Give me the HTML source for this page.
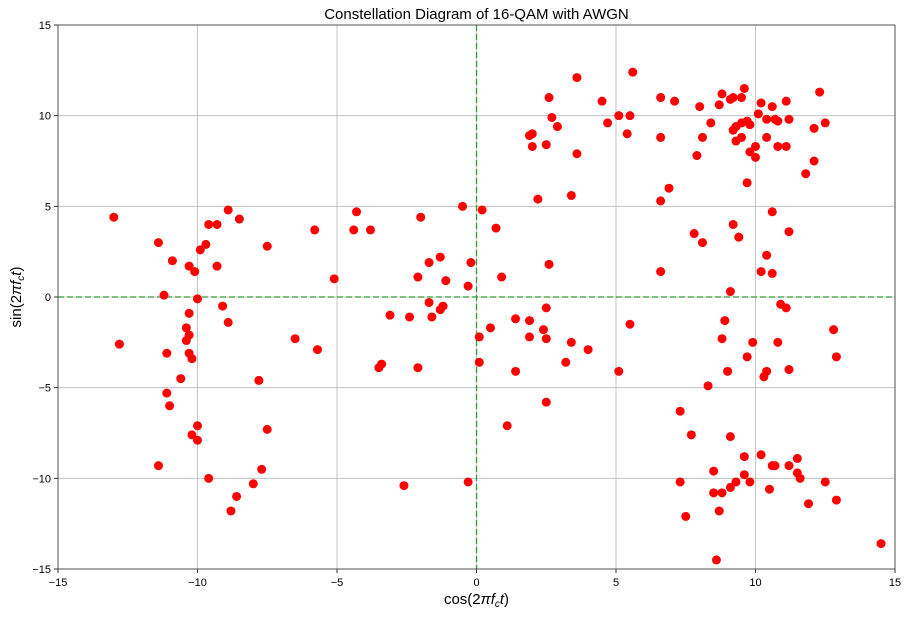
<!DOCTYPE html>
<html><head><meta charset="utf-8"><style>
body{margin:0;background:#fff;}
svg text{font-family:"Liberation Sans","DejaVu Sans",sans-serif;}
</style></head><body>
<svg id="chart" width="908" height="615" xmlns="http://www.w3.org/2000/svg"></svg>
<script>
const xTicks=[-15,-10,-5,0,5,10,15];
const yTicks=[-15,-10,-5,0,5,10,15];
const xs=[-13.0,-11.4,-10.9,-11.2,-10.3,-10.1,-9.9,-9.7,-9.6,-9.3,-9.3,-8.9,-8.5,-7.5,-10.0,-9.1,-8.9,-10.3,-10.4,-10.3,-10.4,-10.3,-10.2,-11.1,-12.8,-10.6,-11.1,-11.0,-10.0,-10.2,-10.0,-11.4,-9.6,-7.5,-7.8,-7.7,-8.0,-8.6,-8.8,
-5.8,-4.3,-4.4,-3.8,-5.1,-6.5,-5.7,-3.1,-3.5,-3.4,-2.6,-2.4,-2.1,-2.1,-2.0,-1.7,-1.7,-1.6,-1.3,-1.3,-1.2,-1.1,-0.5,-0.3,-0.2,-0.3,0.2,0.1,0.1,0.5,0.7,0.9,1.1,1.4,1.4,1.9,1.9,2.2,2.4,2.5,2.5,2.5,2.6,3.2,3.4,3.4,4.0,
1.9,2.0,2.0,2.5,2.6,2.7,2.9,3.6,3.6,4.5,4.7,5.1,5.5,5.4,5.6,6.6,6.6,7.1,6.6,6.9,6.6,7.9,8.0,8.1,8.4,8.7,8.8,9.1,9.2,9.5,9.6,9.2,9.3,9.5,9.7,9.5,9.3,9.8,10.0,9.8,10.1,10.2,10.4,10.4,10.0,9.7,10.6,10.7,10.8,10.8,11.1,11.2,11.1,10.6,11.2,11.8,12.1,12.1,12.3,12.5,7.8,8.1,9.2,9.4,10.4,10.2,10.6,
9.1,10.9,11.1,8.9,8.8,9.9,10.8,9.7,9.0,10.4,10.3,11.2,8.3,7.3,7.7,9.1,9.6,10.2,11.5,10.6,10.7,11.2,11.5,8.5,9.6,9.8,9.3,9.1,11.6,12.5,7.3,8.5,8.8,10.5,7.5,8.7,11.9,12.9,8.6,14.5,12.8,12.9,5.5,5.1];
const ys=[4.4,3.0,2.0,0.1,1.7,1.4,2.6,2.9,4.0,4.0,1.7,4.8,4.3,2.8,-0.1,-0.5,-1.4,-0.9,-1.7,-2.1,-2.4,-3.1,-3.4,-3.1,-2.6,-4.5,-5.3,-6.0,-7.1,-7.6,-7.9,-9.3,-10.0,-7.3,-4.6,-9.5,-10.3,-11.0,-11.8,
3.7,4.7,3.7,3.7,1.0,-2.3,-2.9,-1.0,-3.9,-3.7,-10.4,-1.1,-3.9,1.1,4.4,1.9,-0.3,-1.1,2.2,-0.7,-0.5,0.9,5.0,0.6,1.9,-10.2,4.8,-2.2,-3.6,-1.7,3.8,1.1,-7.1,-1.2,-4.1,-1.3,-2.2,5.4,-1.8,-0.6,-2.3,-5.8,1.8,-3.6,-2.5,5.6,-2.9,
8.9,9.0,8.3,8.4,11.0,9.9,9.4,7.9,12.1,10.8,9.6,10.0,10.0,9.0,12.4,11.0,8.8,10.8,5.3,6.0,1.4,7.8,10.5,8.8,9.6,10.6,11.2,10.9,11.0,11.0,11.5,9.2,9.4,9.6,9.7,8.8,8.6,8.0,7.7,9.5,10.1,10.7,9.8,8.8,8.3,6.3,10.5,9.8,9.7,8.3,10.8,9.8,8.3,4.7,3.6,6.8,7.5,9.3,11.3,9.6,3.5,3.0,4.0,3.3,2.3,1.4,1.3,
0.3,-0.4,-0.6,-1.3,-2.3,-2.5,-2.5,-3.3,-4.1,-4.1,-4.4,-4.0,-4.9,-6.3,-7.6,-7.7,-8.8,-8.7,-8.9,-9.3,-9.3,-9.3,-9.7,-9.6,-9.8,-10.2,-10.2,-10.5,-10.0,-10.2,-10.2,-10.8,-10.8,-10.6,-12.1,-11.8,-11.4,-11.2,-14.5,-13.6,-1.8,-3.3,-1.5,-4.1];

const L=58,R=895,T=25,B=569;
const sx=v=>L+(v+15)/30*(R-L);
const sy=v=>T+(15-v)/30*(B-T);
const svg=document.getElementById('chart');
const NS='http://www.w3.org/2000/svg';
function mk(tag,attrs,txt){const e=document.createElementNS(NS,tag);for(const k in attrs)e.setAttribute(k,attrs[k]);if(txt!=null)e.textContent=txt;svg.appendChild(e);return e;}

xTicks.forEach(t=>{
  const g=mk('line',{x1:sx(t),x2:sx(t),y1:T,y2:B,stroke:'#b8b8b8','stroke-width':0.8});
  
  
  mk('line',{x1:sx(t),x2:sx(t),y1:B,y2:B+4,stroke:'#000','stroke-width':0.8});
  const l=mk('text',{x:sx(t),y:B+17,'font-size':11,'text-anchor':'middle',fill:'#000'},String(t).replace('-','\u2212'));
  
  
});
yTicks.forEach(t=>{
  const g=mk('line',{x1:L,x2:R,y1:sy(t),y2:sy(t),stroke:'#b8b8b8','stroke-width':0.8});
  
  
  mk('line',{x1:L-4,x2:L,y1:sy(t),y2:sy(t),stroke:'#000','stroke-width':0.8});
  const l=mk('text',{x:L-7,y:sy(t)+4,'font-size':11,'text-anchor':'end',fill:'#000'},String(t).replace('-','\u2212'));
  
  
});
const h0=mk('line',{x1:L,x2:R,y1:sy(0),y2:sy(0),stroke:'#339933','stroke-width':1.3,'stroke-dasharray':'6,3'});


const v0=mk('line',{x1:sx(0),x2:sx(0),y1:T,y2:B,stroke:'#339933','stroke-width':1.3,'stroke-dasharray':'6,3'});



for(let i=0;i<xs.length;i++){
  const c=mk('circle',{cx:sx(xs[i]),cy:sy(ys[i]),r:4.5,fill:'#ff0000'});
  
  
}
const frame=mk('rect',{x:L,y:T,width:R-L,height:B-T,fill:'none',stroke:'#444','stroke-width':0.9});



const title=mk('text',{x:(L+R)/2,y:19,'font-size':15,'text-anchor':'middle',fill:'#000'},'Constellation Diagram of 16-QAM with AWGN');


const xl=mk('text',{x:(L+R)/2,y:604,'font-size':15,'text-anchor':'middle',fill:'#000'});
xl.innerHTML='cos(2<tspan font-style="italic">π</tspan><tspan font-style="italic">f</tspan><tspan font-size="10" dy="3" font-style="italic">c</tspan><tspan dy="-3" font-style="italic">t</tspan>)';


const yl=mk('text',{x:0,y:0,'font-size':15,'text-anchor':'middle',fill:'#000',transform:'translate(21,'+((T+B)/2)+') rotate(-90)'});
yl.innerHTML='sin(2<tspan font-style="italic">π</tspan><tspan font-style="italic">f</tspan><tspan font-size="10" dy="3" font-style="italic">c</tspan><tspan dy="-3" font-style="italic">t</tspan>)';


</script>
</body></html>
